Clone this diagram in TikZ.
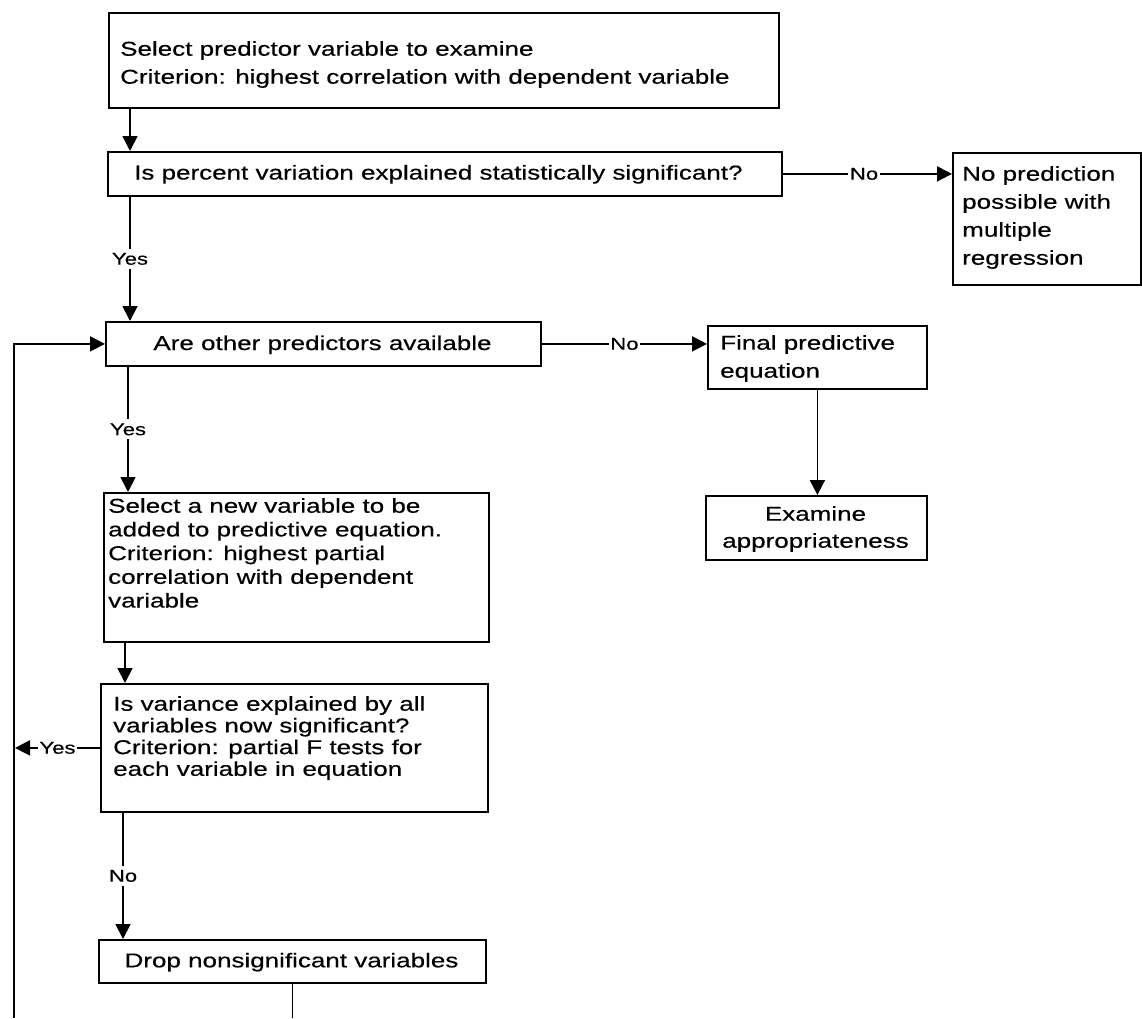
\documentclass[tikz,border=0pt]{standalone}
\usepackage{fontspec}
\setmainfont{Liberation Sans}[FakeStretch=1.3,FakeBold=0.4]
\usetikzlibrary{arrows.meta}
\newcommand\fsz[1]{\fontsize{20}{#1}\selectfont}
\begin{document}
\begin{tikzpicture}[x=1pt,y=-1pt,
  box/.style={draw, line width=1.8pt, inner sep=0pt, anchor=north west},
  txt/.style={inner sep=0pt, font=\fsz{23.7}},
  lbl/.style={fill=white, inner xsep=1.5pt, inner ysep=4pt, font=\fontsize{17}{19}\selectfont},
  arr/.style={line width=1.8pt, -{Triangle[length=15pt,width=15pt]}},
  ln/.style={line width=1.8pt},
]
\fill[white] (0,0) rectangle (1142,1018);
\useasboundingbox (0,0) rectangle (1142,1018);

% boxes
\node[box, minimum width=670pt, minimum height=95pt] (b1) at (108,12) {};
\node[txt, anchor=north west, align=left, font=\fsz{28}] (t1) at (120,41)
  {Select predictor variable to examine\\Criterion: highest correlation with dependent variable};

\node[box, minimum width=674pt, minimum height=44pt] (b2) at (107,151) {};
\node[txt, anchor=base west] (t2) at (134,179.5)
  {Is percent variation explained statistically significant?};

\node[box, minimum width=188pt, minimum height=132pt] (b3) at (952,152) {};
\node[txt, anchor=north west, align=left, font=\fsz{28}] (t3) at (962,166)
  {No prediction\\possible with\\multiple\\regression};

\node[box, minimum width=435pt, minimum height=44pt] (b4) at (105,321) {};
\node[txt, anchor=base] (t4) at (322.5,350) {Are other predictors available};

\node[box, minimum width=219pt, minimum height=63pt] (fin) at (707,325) {};
\node[txt, anchor=north west, align=left, font=\fsz{28}] (tfin) at (720,335)
  {Final predictive\\equation};

\node[box, minimum width=221pt, minimum height=64pt] (exam) at (705,495) {};
\node[txt, anchor=north, align=center, font=\fsz{27}] (texam) at (815.5,506)
  {Examine\\appropriateness};

\node[box, minimum width=385pt, minimum height=149pt] (b5) at (103,492) {};
\node[txt, anchor=north west, align=left, font=\fsz{23.7}] (t5) at (108,498)
  {Select a new variable to be\\added to predictive equation.\\Criterion: highest partial\\correlation with dependent\\variable};

\node[box, minimum width=387pt, minimum height=128pt] (b6) at (100,683) {};
\node[txt, anchor=north west, align=left, font=\fsz{21.7}] (t6) at (113,696)
  {Is variance explained by all\\variables now significant?\\Criterion: partial F tests for\\each variable in equation};

\node[box, minimum width=387pt, minimum height=43pt] (drop) at (98,939) {};
\node[txt, anchor=base] (tdrop) at (291.5,967.3) {Drop nonsignificant variables};

\coordinate (lp) at (14,1018);

% connectors
\draw[arr] ([xshift=22pt]b1.south west) -- ([xshift=22pt]b1.south west |- b2.north);
\draw[arr] (b2.east) -- node[lbl, pos=0.48] (n1) {No} (b2.east -| b3.west);
\draw[arr] ([xshift=23pt]b2.south west) -- node[lbl] (y1) {Yes} ([xshift=23pt]b2.south west |- b4.north);
\draw[arr] (b4.east) -- node[lbl] (n2) {No} (b4.east -| fin.west);
\draw[arr] (fin.south) -- (fin.south |- exam.north);
\draw[arr] ([xshift=23pt]b4.south west) -- node[lbl] (y2) {Yes} ([xshift=23pt]b4.south west |- b5.north);
\draw[arr] ([xshift=22pt]b5.south west) -- ([xshift=22pt]b5.south west |- b6.north);
\draw[arr] (b6.west) -- node[lbl] (y3) {Yes} ([xshift=1pt]b6.west -| lp);
\draw[arr] ([xshift=23pt]b6.south west) -- node[lbl] (n3) {No} ([xshift=23pt]b6.south west |- drop.north);
\draw[arr] (lp) -- (lp |- b4.west) -- (b4.west);
\draw[ln] (drop.south) -- (drop.south |- lp);
\end{tikzpicture}
\end{document}
